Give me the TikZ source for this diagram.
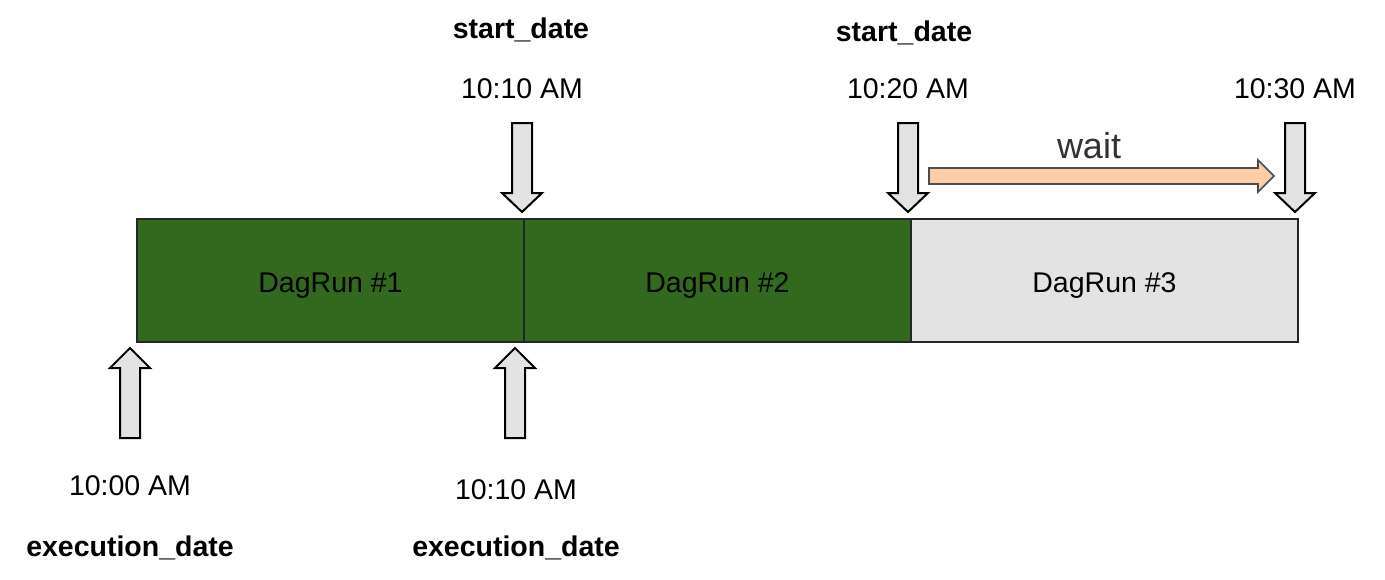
\documentclass[tikz,border=0pt]{standalone}
\usepackage{fontspec}
\setmainfont{Liberation Sans}
\definecolor{rungreen}{RGB}{51,105,30}
\definecolor{lightgr}{RGB}{227,227,227}
\definecolor{peach}{RGB}{252,205,166}
\definecolor{waitgr}{RGB}{51,51,51}
\begin{document}
\begin{tikzpicture}[x=1pt,y=-1pt,
  runbox/.style={draw=black!85,line width=2pt,minimum width=387pt,minimum height=123pt,inner sep=0pt,text height=23pt,text depth=0pt,font=\fontsize{28.5}{34}\selectfont},
  lbl/.style={inner sep=0pt,font=\fontsize{28.5}{34}\selectfont},
  blbl/.style={inner sep=0pt,font=\fontsize{28.5}{34}\selectfont\bfseries},
  arrstyle/.style={draw=black,fill=lightgr,line width=2pt,line join=miter},
  downarr/.pic={\path[arrstyle] (0,0) -- (20,-19) -- (10,-19) -- (10,-89) -- (-10,-89) -- (-10,-19) -- (-20,-19) -- cycle;},
  uparr/.pic={\path[arrstyle] (0,0) -- (20,20) -- (10,20) -- (10,90) -- (-10,90) -- (-10,20) -- (-20,20) -- cycle;}
]
\useasboundingbox (0,0) rectangle (1385,579);
% boxes
\node[runbox,fill=rungreen,anchor=north west] (r1) at (136,218) {DagRun \#1};
\node[runbox,fill=rungreen,anchor=north west] (r2) at (523,218) {DagRun \#2};
\node[runbox,fill=lightgr,anchor=north west] (r3) at (910,218) {DagRun \#3};
% down arrows
\pic at (522,212) {downarr};
\pic at (908,212) {downarr};
\pic at (1295,212) {downarr};
% up arrows
\pic at (130,348) {uparr};
\pic at (515,348) {uparr};
% wait arrow
\path[draw=black!70,fill=peach,line width=1.6pt] (929,168) -- (1258,168) -- (1258,160) -- (1274,176) -- (1258,192) -- (1258,184) -- (929,184) -- cycle;
\node[inner sep=0pt,text=waitgr,font=\fontsize{36}{40}\selectfont] (wait) at (1089,146) {wait};
% labels top
\node[blbl] (sd1) at (521,30) {start\_date};
\node[lbl] (t1) at (522,89) {10:10 AM};
\node[blbl] (sd2) at (904,33) {start\_date};
\node[lbl] (t2) at (908,89) {10:20 AM};
\node[lbl] (t3) at (1295,89) {10:30 AM};
% labels bottom
\node[lbl] (t0) at (130,486) {10:00 AM};
\node[blbl] (ed1) at (130,548) {execution\_date};
\node[lbl] (t4) at (516,490) {10:10 AM};
\node[blbl] (ed2) at (516,548) {execution\_date};
\end{tikzpicture}
\end{document}
